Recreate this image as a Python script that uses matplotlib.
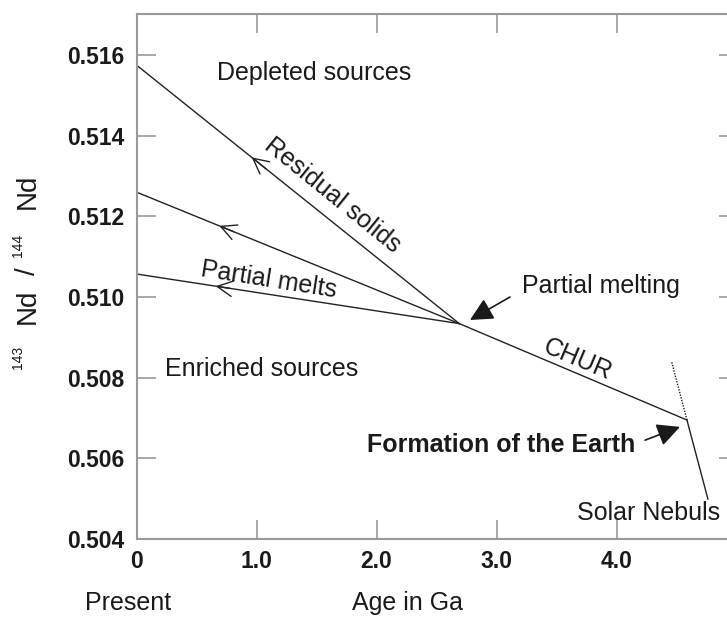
import numpy as np
import matplotlib
matplotlib.use('Agg')
import matplotlib.pyplot as plt

plt.rcParams['font.family'] = ['Liberation Sans', 'DejaVu Sans']

# 資料 (Ga, 143Nd/144Nd)
melt_age = 2.69          # 部分熔融時間
melt_ratio = 0.50934
present_ratios = [0.51575, 0.51260, 0.51057]   # residual solids, middle, partial melts
chevron_ages = [0.96, 0.69, 0.66]
chur_age = [2.69, 4.587]
chur_ratio = [0.50934, 0.50695]
nebula_age = [4.587, 4.762]
nebula_ratio = [0.50695, 0.50499]
dotted_age = [4.587, 4.46]
dotted_ratio = [0.50695, 0.50839]

xticks = [0, 1, 2, 3, 4]
xticklabels = ['0', '1.0', '2.0', '3.0', '4.0']
yticks = [0.504, 0.506, 0.508, 0.510, 0.512, 0.514, 0.516]
yticklabels = ['0.504', '0.506', '0.508', '0.510', '0.512', '0.514', '0.516']

W, H = 727, 618
fig = plt.figure(figsize=(W / 100, H / 100), dpi=100)
ax = fig.add_axes([136.5 / W, (H - 539) / H, (728 - 136.5) / W, (539 - 14) / H])
ax.set_xlim(0, (728 - 136.5) / 120)
ax.set_ylim(0.504, 0.516 + 41 / 80.67 * 0.002)

line_c = '#222222'
text_c = '#1a1a1a'
grey = '#9a9a9a'

# 三條演化線 (從部分熔融點到現在)
for r in present_ratios:
    ax.plot([0, melt_age], [r, melt_ratio], color=line_c, lw=1.0)

# 箭頭 (指向現在)
for r, xa in zip(present_ratios, chevron_ages):
    slope = (melt_ratio - r) / melt_age
    ax.annotate('', xy=(xa, r + slope * xa), xytext=(xa + 0.12, r + slope * (xa + 0.12)),
                arrowprops=dict(arrowstyle='->,head_length=0.55,head_width=0.28',
                                color=line_c, lw=1.0, shrinkA=0, shrinkB=0,
                                mutation_scale=20))

ax.plot(chur_age, chur_ratio, color=line_c, lw=1.0)
ax.plot(nebula_age, nebula_ratio, color=line_c, lw=1.0)
ax.plot(dotted_age, dotted_ratio, color=line_c, lw=1.0, ls=(0, (1, 1)))

# 文字
fs = 18
ax.text(0.67, 0.51538, 'Depleted sources', fontsize=fs, color=text_c)
ax.text(0.2375, 0.50804, 'Enriched sources', fontsize=fs, color=text_c)
ax.text(3.2125, 0.5101, 'Partial melting', fontsize=fs, color=text_c)
ax.text(4.154, 0.50616, 'Formation of the Earth', fontsize=fs, color=text_c,
        fontweight='bold', ha='right')
ax.text(4.8625, 0.50447, 'Solar Nebuls', fontsize=fs, color=text_c, ha='right')
ax.text(3.679, 0.50844, 'CHUR', fontsize=fs, color=text_c, rotation=-23,
        ha='center', va='center', rotation_mode='anchor')
ax.text(1.6375, 0.51253, 'Residual solids', fontsize=fs, color=text_c, rotation=-39,
        ha='center', va='center', rotation_mode='anchor')
ax.text(1.104, 0.51042, 'Partial melts', fontsize=fs, color=text_c, rotation=-9,
        ha='center', va='center', rotation_mode='anchor')

# 實心箭頭
ax.annotate('', xy=(2.779, 0.50943), xytext=(3.1125, 0.51000),
            arrowprops=dict(arrowstyle='-|>,head_length=0.7,head_width=0.35',
                            color=text_c, lw=1.2, shrinkA=0, shrinkB=0, mutation_scale=20))
ax.annotate('', xy=(4.529, 0.50678), xytext=(4.2375, 0.50645),
            arrowprops=dict(arrowstyle='-|>,head_length=0.7,head_width=0.35',
                            color=text_c, lw=1.2, shrinkA=0, shrinkB=0, mutation_scale=20))

# 軸
ax.set_xticks(xticks)
ax.set_xticklabels(xticklabels, fontsize=16.5, fontweight='bold', color=text_c)
ax.set_yticks(yticks)
ax.set_yticklabels(yticklabels, fontsize=16.5, fontweight='bold', color=text_c)
ax.tick_params(axis='x', direction='in', length=14, width=1.2, color=grey, top=True, pad=8)
ax.tick_params(axis='y', direction='in', length=14, width=1.2, color=grey, right=True, pad=9)
for t in ax.yaxis.get_major_ticks():
    t.tick2line.set_markersize(6.5)
for s in ['left', 'bottom', 'top']:
    ax.spines[s].set_color(grey)
    ax.spines[s].set_linewidth(1.5)
ax.spines['right'].set_visible(False)

# y 軸標籤 143Nd / 144Nd
fig.text(18 / W, 1 - 357 / H, '143', fontsize=10, rotation=90, ha='center', va='center', color=text_c)
fig.text(28 / W, 1 - 306 / H, 'Nd', fontsize=20, rotation=90, ha='center', va='center', color=text_c)
fig.text(28 / W, 1 - 271 / H, '/', fontsize=20, rotation=90, ha='center', va='center', color=text_c)
fig.text(18 / W, 1 - 245 / H, '144', fontsize=10, rotation=90, ha='center', va='center', color=text_c)
fig.text(28 / W, 1 - 191 / H, 'Nd', fontsize=20, rotation=90, ha='center', va='center', color=text_c)

fig.text(128.5 / W, 1 - 603 / H, 'Present', fontsize=fs, ha='center', va='center', color=text_c)
fig.text(408 / W, 1 - 603 / H, 'Age in Ga', fontsize=fs, ha='center', va='center', color=text_c)

fig.savefig('out.png', dpi=100)
